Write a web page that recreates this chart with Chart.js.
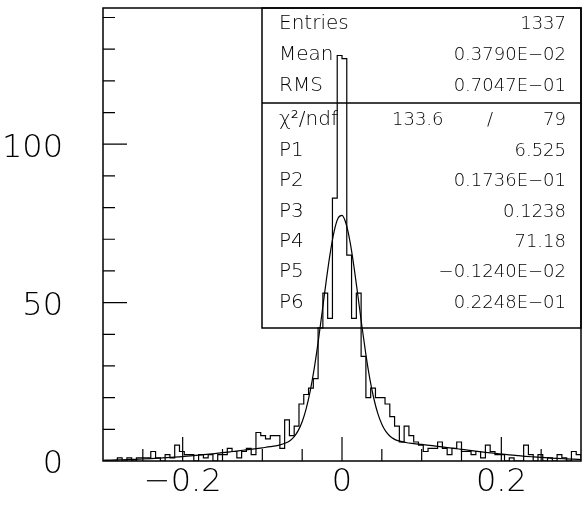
<!DOCTYPE html>
<html>
<head>
<meta charset="utf-8">
<script src="https://cdn.jsdelivr.net/npm/chart.js@4.4.1/dist/chart.umd.min.js"></script>
<style>
html, body { margin: 0; padding: 0; background: #fff; }
</style>
</head>
<body>
<canvas id="histChart" width="582" height="505"></canvas>
<script>
// histogram, 100 bins from -0.3 to 0.3
const xMin = -0.3;
const xMax = 0.3;
const binCounts = [
  0, 0, 0, 1, 0, 1, 0, 1, 1, 1,
  3, 1, 0, 2, 1, 5, 3, 2, 2, 0,
  2, 1, 2, 0, 2, 2, 4, 3, 1, 3,
  4, 2, 9, 8, 7, 8, 8, 4, 13, 8,
  11, 18, 21, 23, 26, 42, 53, 45, 83, 128,
  127, 65, 45, 53, 33, 20, 23, 20, 20, 18,
  14, 11, 6, 11, 8, 6, 5, 3, 4, 4,
  6, 4, 2, 4, 6, 3, 3, 2, 3, 1,
  5, 3, 2, 2, 0, 1, 0, 0, 5, 2,
  0, 2, 0, 1, 0, 2, 1, 0, 3, 2
];

// fitted curve
const fitX = [
  -0.30, -0.29, -0.28, -0.27, -0.26, -0.25, -0.24, -0.23, -0.22, -0.21,
  -0.20, -0.19, -0.18, -0.17, -0.16, -0.15, -0.14, -0.13, -0.12, -0.11,
  -0.10, -0.09, -0.08, -0.07, -0.065, -0.06, -0.055, -0.05, -0.045, -0.04,
  -0.035, -0.03, -0.025, -0.02, -0.015, -0.01, -0.005, 0.0, 0.005, 0.01,
  0.015, 0.02, 0.025, 0.03, 0.035, 0.04, 0.045, 0.05, 0.055, 0.06,
  0.065, 0.07, 0.08, 0.09, 0.10, 0.11, 0.12, 0.13, 0.14, 0.15,
  0.16, 0.17, 0.18, 0.19, 0.20, 0.21, 0.22, 0.23, 0.24, 0.25,
  0.26, 0.27, 0.28, 0.29, 0.30
];
const fitY = [
  0.24, 0.30, 0.37, 0.44, 0.53, 0.63, 0.75, 0.89, 1.04, 1.21,
  1.40, 1.60, 1.83, 2.08, 2.34, 2.62, 2.91, 3.21, 3.53, 3.84,
  4.17, 4.51, 4.94, 5.75, 6.50, 7.71, 9.58, 12.40, 16.44, 21.96,
  29.01, 37.46, 46.87, 56.49, 65.32, 72.35, 76.61, 77.53, 74.98, 69.33,
  61.36, 52.08, 42.53, 33.59, 25.86, 19.65, 14.94, 11.60, 9.34, 7.89,
  6.98, 6.43, 5.85, 5.51, 5.23, 4.93, 4.63, 4.31, 4.00, 3.68,
  3.36, 3.05, 2.75, 2.47, 2.20, 1.94, 1.71, 1.49, 1.30, 1.12,
  0.96, 0.81, 0.69, 0.58, 0.48
];

const yMax = 143;
const yTickLabels = [0, 50, 100];
const xTickLabels = [-0.2, 0, 0.2];

const statNames = ['Entries', 'Mean', 'RMS'];
const statValues = ['1337', '0.3790E\u221202', '0.7047E\u221201'];
const chiLabel = '\u03c7\u00b2/ndf';
const chiValues = ['133.6', '79'];
const parNames = ['P1', 'P2', 'P3', 'P4', 'P5', 'P6'];
const parValues = ['6.525', '0.1736E\u221201', '0.1238', '71.18', '\u22120.1240E\u221202', '0.2248E\u221201'];

const binWidth = (xMax - xMin) / binCounts.length;
const histPoints = binCounts.map((c, i) => ({ x: xMin + i * binWidth, y: c }));
histPoints.push({ x: xMax, y: 0 });
const fitPoints = fitX.map((x, i) => ({ x: x, y: fitY[i] }));

const fmt = v => (v < 0 ? '\u2212' + Math.abs(v) : String(v));
const textFont = '"DejaVu Sans", "Liberation Sans", sans-serif';

// PAW style frame, inward ticks and stats box
const pawFrame = {
  id: 'pawFrame',
  beforeDatasetsDraw(chart) {
    const ctx = chart.ctx;
    const a = chart.chartArea;
    const boxLeft = 262, sepY = 103, boxBottom = 328;
    ctx.save();
    ctx.strokeStyle = '#000';
    ctx.lineWidth = 1.5;
    ctx.strokeRect(boxLeft, a.top, a.right - boxLeft, boxBottom - a.top);
    ctx.beginPath();
    ctx.moveTo(boxLeft, sepY);
    ctx.lineTo(a.right, sepY);
    ctx.stroke();

    ctx.fillStyle = '#000';
    ctx.textBaseline = 'middle';
    const labelFont = '200 20px ' + textFont;
    const valueFont = '200 18px ' + textFont;
    const labelX = 279, valueX = 566;
    const topRows = [24, 55, 86];
    statNames.forEach((n, i) => {
      ctx.font = labelFont;
      ctx.textAlign = 'left';
      ctx.fillText(n, labelX, topRows[i]);
      ctx.font = valueFont;
      ctx.textAlign = 'right';
      ctx.fillText(statValues[i], valueX, topRows[i]);
    });
    ctx.font = labelFont;
    ctx.textAlign = 'left';
    ctx.fillText(chiLabel, labelX, 120);
    ctx.font = valueFont;
    ctx.fillText(chiValues[0], 392, 120);
    ctx.textAlign = 'center';
    ctx.fillText('/', 490, 120);
    ctx.textAlign = 'right';
    ctx.fillText(chiValues[1], valueX, 120);
    const parRows = [151, 181, 212, 242, 272, 303];
    parNames.forEach((n, i) => {
      ctx.font = labelFont;
      ctx.textAlign = 'left';
      ctx.fillText(n, labelX, parRows[i]);
      ctx.font = valueFont;
      ctx.textAlign = 'right';
      ctx.fillText(parValues[i], valueX, parRows[i]);
    });
    ctx.restore();
  },
  afterDatasetsDraw(chart) {
    const ctx = chart.ctx;
    const a = chart.chartArea;
    const xs = chart.scales.x, ys = chart.scales.y;
    ctx.save();
    ctx.strokeStyle = '#000';
    ctx.lineWidth = 1.5;
    ctx.strokeRect(a.left, a.top, a.right - a.left, a.bottom - a.top);
    ctx.lineWidth = 1.2;
    ctx.beginPath();
    for (let v = 10; v < yMax; v += 10) {
      const py = ys.getPixelForValue(v);
      const len = yTickLabels.includes(v) ? 24 : 12;
      ctx.moveTo(a.left, py);
      ctx.lineTo(a.left + len, py);
    }
    for (let k = -5; k <= 5; k++) {
      const v = k * 0.05;
      const px = xs.getPixelForValue(v);
      const len = (k % 4 === 0) ? 24 : 12;
      ctx.moveTo(px, a.bottom);
      ctx.lineTo(px, a.bottom - len);
    }
    ctx.stroke();
    ctx.restore();
  }
};

new Chart(document.getElementById('histChart'), {
  type: 'line',
  data: {
    datasets: [
      {
        label: 'histogram',
        data: histPoints,
        stepped: 'before',
        borderColor: '#000',
        borderWidth: 1.2,
        pointRadius: 0,
        fill: false
      },
      {
        label: 'fit',
        data: fitPoints,
        borderColor: '#000',
        borderWidth: 1.2,
        pointRadius: 0,
        cubicInterpolationMode: 'monotone',
        fill: false
      }
    ]
  },
  options: {
    responsive: false,
    animation: false,
    layout: { padding: { top: 8, right: 1, left: 0, bottom: 0 } },
    plugins: { legend: { display: false }, tooltip: { enabled: false } },
    scales: {
      x: {
        type: 'linear',
        min: xMin,
        max: xMax,
        grid: { display: false, drawTicks: false },
        border: { display: false },
        afterBuildTicks: s => { s.ticks = xTickLabels.map(v => ({ value: v })); },
        afterFit: s => { s.height = 44; s.paddingLeft = 0; s.paddingRight = 0; },
        ticks: {
          padding: 2,
          maxRotation: 0,
          color: '#000',
          font: { family: textFont, size: 32, weight: '200' },
          callback: v => fmt(Math.round(v * 10) / 10)
        }
      },
      y: {
        min: 0,
        max: yMax,
        grid: { display: false, drawTicks: false },
        border: { display: false },
        afterBuildTicks: s => { s.ticks = yTickLabels.map(v => ({ value: v })); },
        afterFit: s => { s.width = 103; s.paddingTop = 0; s.paddingBottom = 0; },
        ticks: {
          padding: 40,
          labelOffset: 4,
          color: '#000',
          font: { family: textFont, size: 32, weight: '200' },
          callback: v => String(v)
        }
      }
    }
  },
  plugins: [pawFrame]
});
</script>
</body>
</html>
